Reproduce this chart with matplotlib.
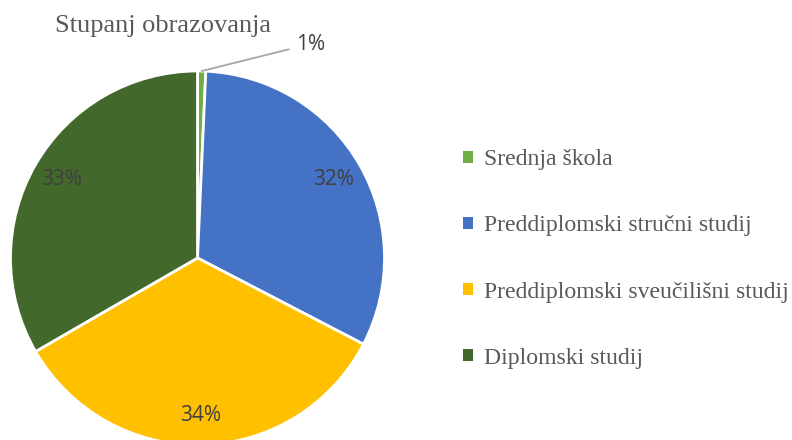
import numpy as np
import matplotlib.pyplot as plt
from matplotlib.patches import Patch

# Daten
kategorien = ["Srednja škola", "Preddiplomski stručni studij",
              "Preddiplomski sveučilišni studij", "Diplomski studij"]
werte = [1, 45, 48, 47]
farben = ["#70AD47", "#4472C4", "#FFC000", "#43682B"]
titel = "Stupanj obrazovanja"

W, H = 792, 440
fig = plt.figure(figsize=(W/100, H/100), dpi=100)
# Kreis: Mitte (197.5, 258) px, Radius 187 px
r = 187
cx, cy = 197.5, 258
ax = fig.add_axes([(cx-r)/W, (H-cy-r)/H, 2*r/W, 2*r/H])
wedges, texts, autotexts = ax.pie(werte, colors=farben, startangle=90, counterclock=False,
                                  autopct=lambda p: "%d%%" % round(p), pctdistance=0.84,
                                  wedgeprops=dict(edgecolor="white", linewidth=2),
                                  textprops=dict(color="#404040", fontsize=15, family="Open Sans"))
ax.set_xlim(-1, 1)
ax.set_ylim(-1, 1)
ax.set_aspect("equal")
ax.axis("off")
for w in wedges:
    w.set_clip_on(False)

# kleiner Sektor: Beschriftung außen mit Führungslinie
autotexts[0].set_visible(False)
th = np.radians(90 - 360*werte[0]/sum(werte)/2)
ax.annotate(autotexts[0].get_text(), xy=(np.cos(th), np.sin(th)), xytext=(0.525, 1.14),
            ha="left", va="center", color="#404040", fontsize=15, family="Open Sans",
            arrowprops=dict(arrowstyle="-", color="#A6A6A6", lw=1.3,
                            connectionstyle="angle,angleA=0,angleB=14,rad=0",
                            shrinkA=3, shrinkB=0),
            annotation_clip=False)

fig.text(163/W, 1-26/H, titel, ha="center", va="center", fontsize=19,
         family="Liberation Serif", color="#595959")

handles = [Patch(facecolor=c, edgecolor="none") for c in farben]
fig.legend(handles, kategorien, loc="center left", bbox_to_anchor=(442/W, 1-259/H),
           frameon=False, handlelength=0.4, handleheight=0.4,
           handletextpad=0.45, labelspacing=1.9,
           prop=dict(family="Liberation Serif", size=17.1), labelcolor="#595959")

fig.savefig("out.png", dpi=100)
